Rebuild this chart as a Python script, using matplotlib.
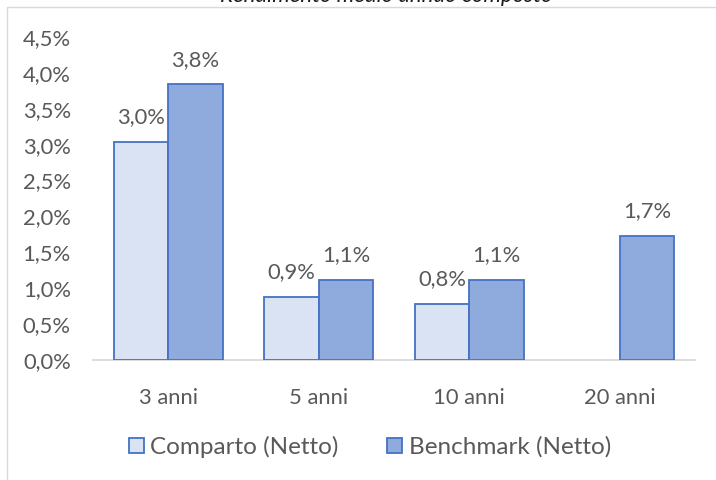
import matplotlib
matplotlib.use("Agg")
import matplotlib.pyplot as plt
from matplotlib.patches import Rectangle, Patch
import numpy as np

plt.rcParams['font.family'] = ['Lato', 'DejaVu Sans']

categories = ["3 anni", "5 anni", "10 anni", "20 anni"]
comparto = [3.04, 0.88, 0.78, None]
benchmark = [3.84, 1.12, 1.11, 1.73]
series_names = ["Comparto (Netto)", "Benchmark (Netto)"]
y_ticks = [0.0, 0.5, 1.0, 1.5, 2.0, 2.5, 3.0, 3.5, 4.0, 4.5]
title = "Rendimento medio annuo composto"

TEXT = "#595959"
EDGE = "#4472c4"
FILL_C = "#dae3f3"
FILL_B = "#8faadc"
FS = 15.8

def pct(v):
    return f"{v:.1f}%".replace(".", ",")

fig = plt.figure(figsize=(7.16, 4.8), dpi=100)
fig.patch.set_facecolor("white")

# chart frame (continues past the right and bottom edges)
fig.patches.append(Rectangle((6.5 / 716, -0.1), 1.2, 1 - 6.5 / 480 + 0.1,
                             transform=fig.transFigure, fill=False,
                             edgecolor="#d9d9d9", linewidth=1.0, zorder=0))

# title, mostly above the visible area
fig.text(386 / 716, 1 - 1.5 / 480, title, ha="center", va="baseline",
         fontsize=16, fontstyle="italic", color="#1a1a1a")

ax = fig.add_axes([93 / 716, 1 - 360 / 480, (695 - 93) / 716, (360 - 37) / 480])
x = np.arange(len(categories))
w = 0.362

c_vals = [np.nan if v is None else v for v in comparto]
ax.bar(x - w / 2, c_vals, w, color=FILL_C, edgecolor=EDGE, linewidth=1.3, zorder=3)
ax.bar(x + w / 2, benchmark, w, color=FILL_B, edgecolor=EDGE, linewidth=1.3, zorder=3)

for xi, v in zip(x - w / 2, comparto):
    if v is not None:
        ax.annotate(pct(v), (xi, v), xytext=(0, 13.5), textcoords="offset points",
                    ha="center", va="baseline", fontsize=FS, color=TEXT)
for xi, v in zip(x + w / 2, benchmark):
    ax.annotate(pct(v), (xi, v), xytext=(0, 13.5), textcoords="offset points",
                ha="center", va="baseline", fontsize=FS, color=TEXT)

ax.set_xlim(-0.5, 3.5)
ax.set_ylim(0, 4.5)
ax.set_yticks(y_ticks)
ax.set_yticklabels([pct(t) for t in y_ticks])
ax.set_xticks(x)
ax.set_xticklabels(categories)
ax.tick_params(axis="y", length=0, pad=16, labelsize=FS, labelcolor=TEXT)
ax.tick_params(axis="x", length=0, pad=20, labelsize=FS, labelcolor=TEXT)
for s in ["top", "right", "left"]:
    ax.spines[s].set_visible(False)
ax.spines["bottom"].set_color("#d9d9d9")
ax.spines["bottom"].set_linewidth(1.3)
ax.set_facecolor("none")

handles = [Patch(facecolor=FILL_C, edgecolor=EDGE, linewidth=1.3),
           Patch(facecolor=FILL_B, edgecolor=EDGE, linewidth=1.3)]
fig.legend(handles, series_names, loc="center", bbox_to_anchor=(370 / 716, 1 - 447 / 480),
           ncol=2, frameon=False, fontsize=17.5, labelcolor=TEXT,
           handlelength=0.62, handleheight=0.62, handletextpad=0.25, columnspacing=2.0)

fig.savefig("out.png", dpi=100)
